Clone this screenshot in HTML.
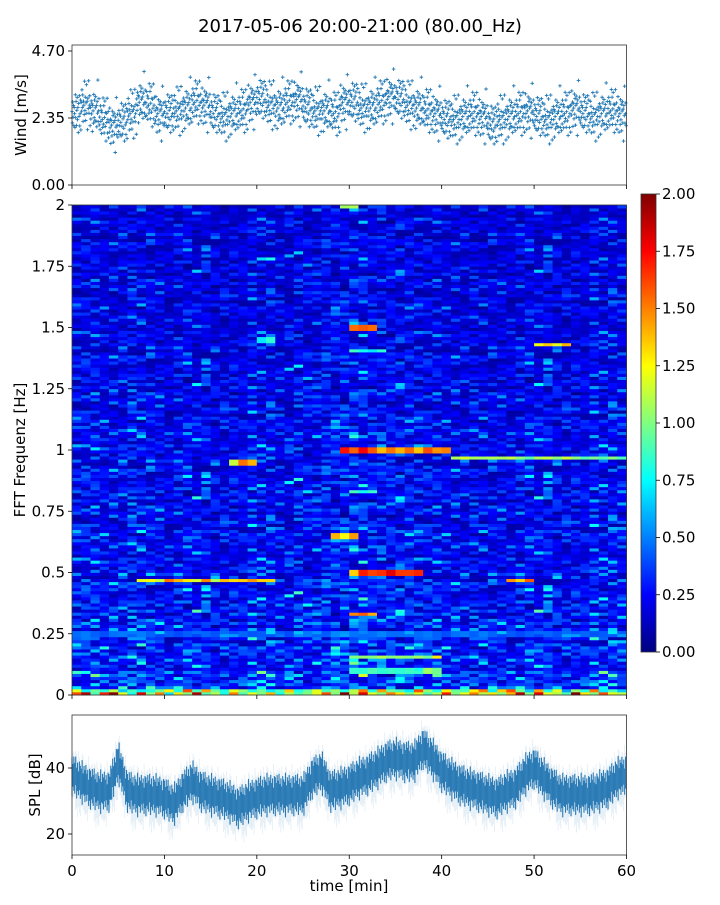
<!DOCTYPE html>
<html><head><meta charset="utf-8">
<style>
html,body{margin:0;padding:0;background:#fff;}
svg text{font-family:"DejaVu Sans","Liberation Sans",sans-serif;fill:#000;}
</style></head>
<body>
<svg id="fig" width="720" height="900" xmlns="http://www.w3.org/2000/svg">
<text x="360" y="32" font-size="18" text-anchor="middle">2017-05-06 20:00-21:00 (80.00_Hz)</text>
<g id="wind"></g>
<g id="spec"></g>
<g id="cbar"></g>
<g id="spl"></g>
</svg>
<script>
// ---- data ----
const windMeans=[2.5,2.8,2.6,2.3,2.1,2.2,2.5,2.9,2.8,2.5,2.5,2.6,2.7,2.9,2.8,2.5,2.4,2.5,2.6,2.9,3.0,2.8,2.7,2.9,3.0,2.7,2.6,2.6,2.5,2.9,2.9,2.7,2.7,2.9,3.1,3.0,2.8,2.7,2.6,2.5,2.3,2.3,2.4,2.5,2.4,2.1,2.3,2.4,2.5,2.6,2.4,2.3,2.4,2.5,2.7,2.5,2.4,2.5,2.6,2.5];
const windSpread=[0.1,-0.3,0.5,-0.1,0.3,-0.6,0.2,0.0,-0.4,0.7,-0.2,0.4,-0.5,0.1,0.6,-0.3,0.2,-0.8,0.3,-0.1,0.9,-0.4,0.0,0.4,-0.6];
const windTicks=[0,2.35,4.70];
const splMeans=[38,36,34,33,33,42,33,32,32,32,31,29,33,36,33,32,31,30,28,30,31,32,32,32,32,32,37,39,33,34,35,37,38,40,42,43,42,42,46,43,39,37,35,34,33,32,31,33,34,38,40,37,34,32,32,32,32,33,34,37,38];
const splJitter=[2,-3,4,-1,5,-4,1,-6,3,0,-2,6,-5,2,-1,4,-3,1,-7,3];
const splTicks=[20,40];
const xTicks=[0,10,20,30,40,50,60];
const freqTicks=[0,0.25,0.5,0.75,1,1.25,1.5,1.75,2];
const freqTickLabels=["0","0.25","0.5","0.75","1","1.25","1.5","1.75","2"];
const cbarTicks=[0,0.25,0.5,0.75,1,1.25,1.5,1.75,2];
const bandBase=[0.42,0.36,0.34,0.32,0.31,0.30,0.30,0.28,0.29,0.28,0.30,0.27,0.26,0.26,0.25,0.24,0.24,0.23,0.23,0.23];
const colMod=[1.0,1.05,1.0,0.95,0.9,0.95,1.0,1.05,1.0,1.0,0.95,1.0,1.05,1.0,0.95,0.9,0.95,1.0,1.0,1.05,1.0,1.0,0.95,1.0,1.05,1.0,1.0,1.05,1.1,1.1,1.15,1.1,1.1,1.1,1.05,1.1,1.05,1.0,1.0,0.95,0.95,0.9,0.85,0.85,0.9,0.9,0.95,1.0,1.0,1.05,1.0,1.0,0.95,0.95,1.0,1.0,1.05,1.0,1.05,1.1];
const texture=[0.6,1.3,0.8,1.1,0.4,1.6,0.9,0.7,1.2,1.0,0.35,1.4,0.85,1.1,0.65,1.25,0.95,0.5,1.35,0.75,1.05,0.45,1.7,0.9,0.7,1.15,0.8,1.3,0.55,1.0,1.5,0.5,0.95,1.2,0.7,1.1,0.85];
const hotFreq=[1.99,1.5,1.45,1.43,1.0,0.97,0.95,0.65,0.5,0.47,0.47,0.33,0.16,0.25,0.83,1.78,1.41,0.1];
const hotStart=[29,30,20,50,29,41,17,28,30,7,47,30,30,0,30,20,30,30];
const hotEnd=[31,33,22,54,41,60,20,31,38,22,50,33,40,60,33,22,34,40];
const hotVal=[1.15,1.5,0.8,1.4,1.6,1.05,1.3,1.45,1.6,1.3,1.5,1.45,1.1,0.45,0.9,0.8,0.8,0.9];
const lowRow=[1.6,1.9,0.9,1.7,2.0,1.2,0.8,1.8,1.0,1.5,0.7,1.3,1.0,1.9,0.9,1.1,0.8,1.5,0.9,1.2,1.0,1.4,0.8,1.1,0.9,1.0,1.2,1.6,1.0,2.0,1.1,1.8,1.2,1.0,1.5,1.3,1.0,1.2,0.9,1.1,1.7,1.0,1.2,1.5,1.1,1.3,1.0,1.4,1.9,1.0,1.8,1.2,1.1,0.9,2.0,1.3,1.0,1.6,1.2,1.1];

// ---- helpers ----
const NS="http://www.w3.org/2000/svg";
function mk(tag,parent,attrs){const e=document.createElementNS(NS,tag);for(const k in attrs)e.setAttribute(k,attrs[k]);parent.appendChild(e);return e;}
function jet(v){let t=Math.max(0,Math.min(1,v/2));
 const r=Math.max(0,Math.min(1,Math.min(4*t-1.5,-4*t+4.5)));
 const g=Math.max(0,Math.min(1,Math.min(4*t-0.5,-4*t+3.5)));
 const b=Math.max(0,Math.min(1,Math.min(4*t+0.5,-4*t+2.5)));
 return `rgb(${Math.round(r*255)},${Math.round(g*255)},${Math.round(b*255)})`;}
const X0=72,X1=626.5;
const xs=t=>X0+(X1-X0)*t/60;
const FS=15;

function xAxisTicks(g,yb,labels){
 xTicks.forEach(t=>{const l=mk('line',g,{x1:xs(t),x2:xs(t),y1:yb,y2:yb+4,stroke:'#000','stroke-width':0.8});
  
  if(labels){const tx=mk('text',g,{x:xs(t),y:yb+21,'font-size':FS,'text-anchor':'middle'});tx.textContent=t;
   }});}

// ---- wind panel ----
(function(){
 const g=document.getElementById('wind');const top=45,bot=185;
 const ys=v=>bot-(v/2.35)*67;
 windMeans.forEach((m,i)=>{windSpread.forEach((s,j)=>{
  const t=i+j/windSpread.length;const v=m+s*(0.7+0.5*((i*7+j*3)%5)/4);
  const x=xs(t),y=ys(v);
  const p=mk('path',g,{d:`M${x-1.8},${y}h3.6M${x},${y-1.8}v3.6`,stroke:'#1f77b4','stroke-width':0.9});
  });});
 const fr=mk('rect',g,{x:X0,y:top,width:X1-X0,height:bot-top,fill:'none',stroke:'#333','stroke-width':0.8});
 
 windTicks.forEach(v=>{mk('line',g,{x1:X0-4,x2:X0,y1:ys(v),y2:ys(v),stroke:'#000','stroke-width':0.8});
  const tx=mk('text',g,{x:X0-7,y:ys(v)+5,'font-size':FS,'text-anchor':'end'});tx.textContent=v.toFixed(2);
  });
 xAxisTicks(g,bot,false);
 const yl=mk('text',g,{x:26,y:115,'font-size':FS,'text-anchor':'middle',transform:'rotate(-90 26 115)'});yl.textContent='Wind [m/s]';
 
})();

// ---- spectrogram ----
(function(){
 const g=document.getElementById('spec');const top=205,bot=695;
 const ys=f=>bot-(f/2)*(bot-top);
 const NR=160,df=2/NR,L=texture.length;
 for(let c=0;c<60;c++){for(let r=0;r<NR;r++){
  const f=r*df;
  const tx=texture[(r*r*7+c*13+r*c*3+r*5)%L]*texture[(c*c*11+r*19+c*r)%L];
  let v=bandBase[Math.min(19,Math.floor(f/0.1))]*colMod[c]*tx;
  if(r<2)v=lowRow[(c+r*17)%60]*(r<1?1:0.8);
  hotFreq.forEach((hf,k)=>{if(c>=hotStart[k]&&c<hotEnd[k]&&Math.abs(f+df/2-hf)<df*0.6)v=Math.max(v,hotVal[k]*(0.75+0.25*texture[(c*5+k)%L]));});
  const rc=mk('rect',g,{x:xs(c),y:ys(f+df),width:(X1-X0)/60+0.4,height:(bot-top)/NR+0.4,fill:jet(v)});
  }}
 const fr=mk('rect',g,{x:X0,y:top,width:X1-X0,height:bot-top,fill:'none',stroke:'#333','stroke-width':0.8});
 
 freqTicks.forEach((f,i)=>{mk('line',g,{x1:X0-4,x2:X0,y1:ys(f),y2:ys(f),stroke:'#000','stroke-width':0.8});
  const tx=mk('text',g,{x:X0-7,y:ys(f)+5,'font-size':FS,'text-anchor':'end'});tx.textContent=freqTickLabels[i];
  });
 xAxisTicks(g,bot,false);
 const yl=mk('text',g,{x:25,y:450,'font-size':FS,'text-anchor':'middle',transform:'rotate(-90 25 450)'});yl.textContent='FFT Frequenz [Hz]';
 
})();

// ---- colorbar ----
(function(){
 const g=document.getElementById('cbar');const top=194,bot=652,x=641,w=15;
 const ys=v=>bot-(v/2)*(bot-top);
 const defs=mk('defs',g,{});const lg=mk('linearGradient',defs,{id:'jetg',x1:0,y1:1,x2:0,y2:0});
 for(let i=0;i<=16;i++)mk('stop',lg,{offset:i/16,'stop-color':jet(i/8)});
 const r=mk('rect',g,{x:x,y:top,width:w,height:bot-top,fill:'url(#jetg)',stroke:'#333','stroke-width':0.8});
 
 cbarTicks.forEach(v=>{mk('line',g,{x1:x+w,x2:x+w+4,y1:ys(v),y2:ys(v),stroke:'#000','stroke-width':0.8});
  const tx=mk('text',g,{x:x+w+6,y:ys(v)+5,'font-size':FS});tx.textContent=v.toFixed(2);
  });
})();

// ---- SPL panel ----
(function(){
 const g=document.getElementById('spl');const top=715,bot=855;
 const ys=v=>768-(v-40)*3.3;
 const N=600;
 const mean=t=>{const i=Math.floor(t),f=t-i;const a=splMeans[Math.min(60,i)],b=splMeans[Math.min(60,i+1)];return a+(b-a)*f;};
 for(let k=0;k<N;k++){const t=k*60/N;const m=mean(t);const j=splJitter[k%splJitter.length];
  const l1=mk('line',g,{x1:xs(t),x2:xs(t),y1:ys(m+5+Math.abs(j)*0.6),y2:ys(m-6-Math.abs(splJitter[(k*3)%splJitter.length])*0.8),stroke:'#1f77b4','stroke-opacity':0.15,'stroke-width':0.7});
  
  const l2=mk('line',g,{x1:xs(t),x2:xs(t),y1:ys(m+4.5+j*0.35),y2:ys(m-4.5+splJitter[(k+7)%splJitter.length]*0.35),stroke:'#2a7ab5','stroke-width':1.1});
  }
 const fr=mk('rect',g,{x:X0,y:top,width:X1-X0,height:bot-top,fill:'none',stroke:'#333','stroke-width':0.8});
 
 splTicks.forEach(v=>{mk('line',g,{x1:X0-4,x2:X0,y1:ys(v),y2:ys(v),stroke:'#000','stroke-width':0.8});
  const tx=mk('text',g,{x:X0-7,y:ys(v)+5,'font-size':FS,'text-anchor':'end'});tx.textContent=v;
  });
 xAxisTicks(g,bot,true);
 const xl=mk('text',g,{x:349,y:891,'font-size':FS,'text-anchor':'middle'});xl.textContent='time [min]';
 
 const yl=mk('text',g,{x:40,y:785,'font-size':FS,'text-anchor':'middle',transform:'rotate(-90 40 785)'});yl.textContent='SPL [dB]';
 
})();
</script>
</body></html>
